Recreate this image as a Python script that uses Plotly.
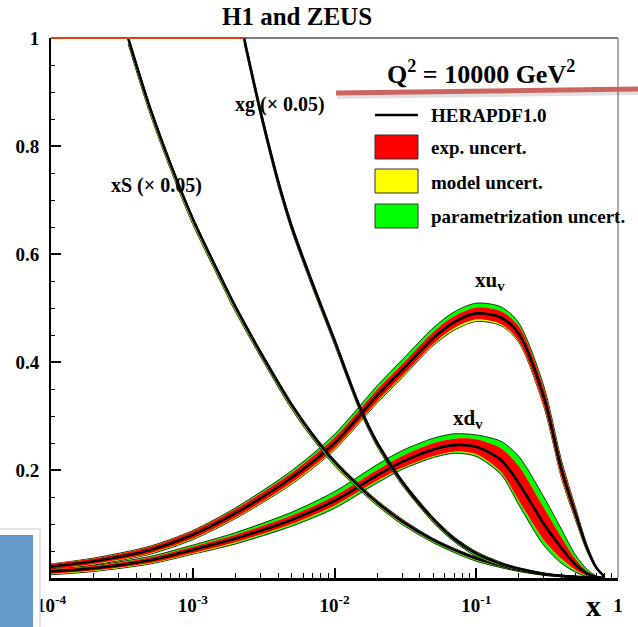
import math
import plotly.graph_objects as go

# ---------------- data ----------------
X_VAL = [1e-4, 2e-4, 5e-4, 1e-3, 2e-3, 5e-3, 1e-2, 2e-2, 3e-2, 5e-2, 7e-2,
         0.1, 0.15, 0.2, 0.3, 0.4, 0.5, 0.6, 0.7, 0.8]

XUV = [0.021, 0.031, 0.052, 0.080, 0.120, 0.186, 0.250, 0.338, 0.385, 0.445, 0.474,
       0.490, 0.482, 0.452, 0.335, 0.200, 0.120, 0.058, 0.020, 0.003]
XUV_EXP = [0.005, 0.005, 0.006, 0.007, 0.008, 0.009, 0.010, 0.011, 0.011, 0.011, 0.011,
           0.011, 0.012, 0.014, 0.016, 0.014, 0.010, 0.005, 0.002, 0.000]
XUV_MOD_LO = [0.006, 0.006, 0.007, 0.008, 0.009, 0.011, 0.012, 0.013, 0.013, 0.013, 0.014,
              0.014, 0.014, 0.015, 0.017, 0.015, 0.011, 0.006, 0.002, 0.000]
XUV_MOD_HI = [0.005, 0.005, 0.006, 0.007, 0.008, 0.009, 0.010, 0.011, 0.011, 0.011, 0.011,
              0.011, 0.012, 0.014, 0.016, 0.014, 0.010, 0.005, 0.002, 0.000]
XUV_TOT_LO = [0.007, 0.007, 0.008, 0.009, 0.010, 0.012, 0.013, 0.014, 0.014, 0.014, 0.015,
              0.015, 0.015, 0.016, 0.018, 0.016, 0.012, 0.007, 0.002, 0.000]
XUV_TOT_HI = [0.005, 0.006, 0.007, 0.008, 0.010, 0.013, 0.016, 0.018, 0.019, 0.019, 0.019,
              0.019, 0.020, 0.020, 0.020, 0.017, 0.012, 0.006, 0.002, 0.000]

XDV = [0.012, 0.018, 0.033, 0.052, 0.073, 0.108, 0.143, 0.190, 0.215, 0.238, 0.246,
       0.243, 0.218, 0.175, 0.100, 0.055, 0.025, 0.009, 0.002, 0.000]
XDV_EXP = [0.004, 0.004, 0.005, 0.006, 0.007, 0.008, 0.009, 0.010, 0.011, 0.012, 0.012,
           0.014, 0.022, 0.032, 0.030, 0.020, 0.010, 0.004, 0.001, 0.000]
XDV_MOD_LO = [0.005, 0.005, 0.006, 0.007, 0.008, 0.009, 0.010, 0.011, 0.012, 0.013, 0.013,
              0.015, 0.023, 0.033, 0.031, 0.021, 0.011, 0.005, 0.001, 0.000]
XDV_MOD_HI = [0.004, 0.004, 0.005, 0.006, 0.007, 0.008, 0.009, 0.010, 0.011, 0.012, 0.012,
              0.014, 0.022, 0.032, 0.030, 0.020, 0.010, 0.004, 0.001, 0.000]
XDV_TOT_LO = [0.006, 0.006, 0.007, 0.008, 0.010, 0.012, 0.014, 0.014, 0.014, 0.015, 0.015,
              0.018, 0.027, 0.040, 0.040, 0.028, 0.014, 0.006, 0.002, 0.000]
XDV_TOT_HI = [0.004, 0.005, 0.007, 0.009, 0.011, 0.014, 0.017, 0.020, 0.021, 0.021, 0.021,
              0.022, 0.035, 0.050, 0.050, 0.035, 0.018, 0.008, 0.002, 0.000]

XS_X = [3.5e-4, 4e-4, 5e-4, 7e-4, 1e-3, 1.5e-3, 2e-3, 3e-3, 5e-3, 7e-3, 1e-2, 1.5e-2,
        2e-2, 3e-2, 5e-2, 7e-2, 0.1, 0.15, 0.2, 0.3, 0.5, 0.7, 0.8]
XS = [1.0, 0.95, 0.87, 0.765, 0.665, 0.568, 0.502, 0.418, 0.320, 0.265, 0.215, 0.169,
      0.14, 0.105, 0.070, 0.052, 0.036, 0.023, 0.015, 0.007, 0.002, 0.0005, 0.0]
XS_EXP = [0.003, 0.003, 0.003, 0.003, 0.003, 0.003, 0.003, 0.003, 0.003, 0.003, 0.003, 0.003,
          0.003, 0.003, 0.002, 0.002, 0.002, 0.002, 0.001, 0.001, 0.001, 0.000, 0.000]
XS_MOD_LO = [0.009, 0.009, 0.009, 0.008, 0.008, 0.007, 0.007, 0.006, 0.006, 0.005, 0.005, 0.004,
             0.004, 0.004, 0.003, 0.003, 0.003, 0.002, 0.002, 0.001, 0.001, 0.000, 0.000]
XS_TOT_LO = [0.011, 0.011, 0.011, 0.010, 0.010, 0.009, 0.009, 0.008, 0.008, 0.007, 0.007, 0.006,
             0.006, 0.006, 0.005, 0.005, 0.005, 0.004, 0.003, 0.002, 0.001, 0.000, 0.000]
XS_TOT_HI = [0.004, 0.004, 0.004, 0.004, 0.004, 0.004, 0.004, 0.004, 0.004, 0.004, 0.004, 0.004,
             0.004, 0.004, 0.003, 0.003, 0.003, 0.003, 0.002, 0.001, 0.001, 0.000, 0.000]

XG_X = [2.3e-3, 3e-3, 4e-3, 5e-3, 7e-3, 1e-2, 1.5e-2, 2e-2, 3e-2, 5e-2, 7e-2,
        0.1, 0.15, 0.2, 0.3, 0.5, 0.7, 0.8]
XG = [1.0, 0.865, 0.735, 0.65, 0.545, 0.44, 0.318, 0.25, 0.178, 0.108, 0.072,
      0.045, 0.026, 0.017, 0.008, 0.002, 0.0003, 0.0]
XG_EXP = [0.004, 0.004, 0.004, 0.004, 0.004, 0.004, 0.003, 0.003, 0.003, 0.003, 0.002,
          0.002, 0.002, 0.001, 0.001, 0.001, 0.000, 0.000]
XG_MOD_LO = [0.007, 0.007, 0.007, 0.006, 0.006, 0.006, 0.005, 0.005, 0.004, 0.004, 0.003,
             0.003, 0.003, 0.002, 0.001, 0.001, 0.000, 0.000]
XG_TOT_LO = [0.009, 0.009, 0.009, 0.008, 0.008, 0.008, 0.007, 0.007, 0.006, 0.006, 0.005,
             0.005, 0.004, 0.003, 0.002, 0.001, 0.000, 0.000]
XG_TOT_HI = [0.005, 0.005, 0.005, 0.005, 0.005, 0.005, 0.004, 0.004, 0.004, 0.004, 0.004,
             0.004, 0.003, 0.002, 0.001, 0.001, 0.000, 0.000]

X_TICKS = [1e-4, 1e-3, 1e-2, 1e-1, 1]
X_TICKTEXT = ["10<sup>-4</sup>", "10<sup>-3</sup>", "10<sup>-2</sup>", "10<sup>-1</sup>", "1"]
Y_TICKS = [0.2, 0.4, 0.6, 0.8, 1.0]
Y_TICKTEXT = ["0.2", "0.4", "0.6", "0.8", "1"]

LEGEND_LABELS = ["HERAPDF1.0", "exp. uncert.", "model uncert.", "parametrization uncert."]

# ---------------- styling ----------------
W, H = 638, 627
ML, MR, MT, MB = 51, 20, 38, 49
PW, PH = W - ML - MR, H - MT - MB
FONT = "Liberation Serif"
GREEN, YELLOW, RED = "#00ff00", "#ffff00", "#ff0000"
X_MIN_LOG, X_MAX_LOG = -4, 0


def px(xp):
    return (xp - ML) / PW


def py(yp):
    return (H - MB - yp) / PH


fig = go.Figure()


def band(xs, lo, hi, color, outline=False):
    xx = list(xs) + list(xs)[::-1]
    yy = list(hi) + list(lo)[::-1]
    fig.add_trace(go.Scatter(
        x=xx, y=yy, mode="lines", fill="toself", fillcolor=color,
        line=dict(color="black" if outline else color, width=0.8 if outline else 0,
                  shape="spline", smoothing=0.8),
        hoverinfo="skip", showlegend=False))


def pdf(xs, c, exp_lo, exp_hi, mod_lo, mod_hi, tot_lo, tot_hi):
    band(xs, [a - b for a, b in zip(c, tot_lo)], [a + b for a, b in zip(c, tot_hi)], GREEN, True)
    band(xs, [a - b for a, b in zip(c, mod_lo)], [a + b for a, b in zip(c, mod_hi)], YELLOW)
    band(xs, [a - b for a, b in zip(c, exp_lo)], [a + b for a, b in zip(c, exp_hi)], RED)
    fig.add_trace(go.Scatter(x=xs, y=c, mode="lines",
                             line=dict(color="black", width=2.6, shape="spline", smoothing=0.8),
                             hoverinfo="skip", showlegend=False))


pdf(X_VAL, XUV, XUV_EXP, XUV_EXP, XUV_MOD_LO, XUV_MOD_HI, XUV_TOT_LO, XUV_TOT_HI)
pdf(X_VAL, XDV, XDV_EXP, XDV_EXP, XDV_MOD_LO, XDV_MOD_HI, XDV_TOT_LO, XDV_TOT_HI)
pdf(XS_X, XS, XS_EXP, XS_EXP, XS_MOD_LO, XS_EXP, XS_TOT_LO, XS_TOT_HI)
pdf(XG_X, XG, XG_EXP, XG_EXP, XG_MOD_LO, XG_EXP, XG_TOT_LO, XG_TOT_HI)

minor_x = [m * 10.0 ** e for e in (-4, -3, -2, -1) for m in range(2, 10)]
minor_y = [k * 0.05 for k in range(1, 20) if k % 4 != 0]

tickfont = dict(family=FONT, size=19, color="black", weight="bold")

fig.update_layout(
    width=W, height=H,
    margin=dict(l=ML, r=MR, t=MT, b=MB),
    paper_bgcolor="white", plot_bgcolor="white",
    showlegend=False,
    xaxis=dict(type="log", range=[X_MIN_LOG, X_MAX_LOG], showgrid=False, zeroline=False,
               showline=True, linecolor="black", linewidth=2.5,
               tickmode="array", tickvals=X_TICKS, ticktext=X_TICKTEXT,
               ticks="inside", ticklen=10, tickwidth=1.5, tickcolor="black",
               ticklabelstandoff=8, tickfont=tickfont,
               minor=dict(tickmode="array", tickvals=minor_x, ticks="inside",
                          ticklen=5, tickwidth=1, tickcolor="black", showgrid=False)),
    yaxis=dict(range=[0, 1], showgrid=False, zeroline=False,
               showline=True, linecolor="black", linewidth=2,
               tickmode="array", tickvals=Y_TICKS, ticktext=Y_TICKTEXT,
               ticks="inside", ticklen=10, tickwidth=1.5, tickcolor="black",
               ticklabelstandoff=6, tickfont=tickfont,
               minor=dict(tickmode="array", tickvals=minor_y, ticks="inside",
                          ticklen=4, tickwidth=1, tickcolor="black", showgrid=False)),
)

shapes = []
# top and right frame
shapes.append(dict(type="line", xref="paper", yref="paper", x0=0, x1=1, y0=1, y1=1,
                   line=dict(color="black", width=1.2)))
# clipped bands along the top edge (xS / xg above the plotted range)
x_clip = (math.log10(XG_X[0]) - X_MIN_LOG) / (X_MAX_LOG - X_MIN_LOG)
shapes.append(dict(type="line", xref="paper", yref="paper", x0=0, x1=x_clip, y0=1, y1=1,
                   line=dict(color="#e0400a", width=1.8)))
shapes.append(dict(type="line", xref="paper", yref="paper", x0=1, x1=1, y0=0, y1=1,
                   line=dict(color="#777777", width=1.2)))

# legend symbols
LX0, LX1 = 375, 418
shapes.append(dict(type="line", xref="paper", yref="paper", x0=px(LX0), x1=px(LX1),
                   y0=py(115), y1=py(115), line=dict(color="black", width=2.5)))
for (y0, y1), col in zip([(135, 159), (169, 193), (204, 228)], [RED, YELLOW, GREEN]):
    shapes.append(dict(type="rect", xref="paper", yref="paper", x0=px(LX0), x1=px(LX1),
                       y0=py(y1), y1=py(y0), fillcolor=col,
                       line=dict(color="#333333", width=1)))

# red underline stroke with soft shadow
shapes.append(dict(type="line", xref="paper", yref="paper", x0=px(337), x1=px(640),
                   y0=py(96), y1=py(92), line=dict(color="rgba(0,0,0,0.12)", width=6)))
shapes.append(dict(type="line", xref="paper", yref="paper", x0=px(336), x1=px(640),
                   y0=py(93), y1=py(89), line=dict(color="#cc6560", width=5)))

# blue panel at bottom-left
shapes.append(dict(type="rect", xref="paper", yref="paper", x0=px(-6), x1=px(40),
                   y0=py(640), y1=py(529), fillcolor="white",
                   line=dict(color="#dddddd", width=1.5)))
shapes.append(dict(type="rect", xref="paper", yref="paper", x0=px(-2), x1=px(33),
                   y0=py(640), y1=py(535), fillcolor="#6598cb", line=dict(width=0)))
fig.update_layout(shapes=shapes)

annos = []


def text(xp, yp, s, size, anchor="center"):
    annos.append(dict(xref="paper", yref="paper", x=px(xp), y=py(yp), text=s,
                      showarrow=False, xanchor=anchor, yanchor="middle",
                      font=dict(family=FONT, size=size, color="black", weight="bold")))


text(297, 17, "H1 and ZEUS", 25)
text(481, 73, "Q<sup>2</sup> = 10000 GeV<sup>2</sup>", 26)
for yl, lab in zip([115, 147, 182, 216], LEGEND_LABELS):
    text(429, yl, lab, 19, "left")
text(156, 186, "xS (× 0.05)", 20)
text(280, 104, "xg (× 0.05)", 20)
text(490, 281, "xu<sub>v</sub>", 21)
text(468, 419, "xd<sub>v</sub>", 21)
text(593, 605, "x", 30)
fig.update_layout(annotations=annos)

fig.write_html("out.html")
